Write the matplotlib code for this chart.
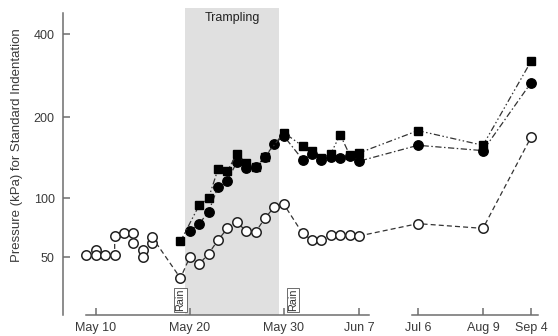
import matplotlib
matplotlib.use("Agg")
import matplotlib.pyplot as plt
import numpy as np
import pandas as pd

plt.rcParams["font.family"] = ["Liberation Sans", "DejaVu Sans"]

# sampling dates (year is arbitrary, only day-of-year is used)
open_dates = ["05-09", "05-10", "05-10", "05-11", "05-12", "05-12", "05-13",
              "05-14", "05-14", "05-15", "05-15", "05-16", "05-16", "05-19",
              "05-20", "05-21", "05-22", "05-23", "05-24", "05-25", "05-26",
              "05-27", "05-28", "05-29", "05-30", "06-01", "06-02", "06-03",
              "06-04", "06-05", "06-06", "06-07", "07-06", "08-09", "09-04"]
open_kpa = [51, 54, 51, 51, 51, 64, 66,
            66, 59, 54, 50, 59, 63, 39,
            50, 46, 52, 61, 70, 75, 68,
            67, 79, 90, 93, 66, 61, 61,
            65, 65, 65, 64, 74, 70, 168]

circle_dates = ["05-20", "05-21", "05-22", "05-23", "05-24", "05-25", "05-26",
                "05-27", "05-28", "05-29", "05-30", "06-01", "06-02", "06-03",
                "06-04", "06-05", "06-06", "06-07", "07-06", "08-09", "09-04"]
circle_kpa = [68, 74, 85, 110, 116, 136, 129,
              130, 142, 159, 170, 139, 146, 139,
              142, 141, 143, 137, 157, 150, 266]

square_dates = ["05-19", "05-21", "05-22", "05-23", "05-24", "05-25", "05-26",
                "05-27", "05-28", "05-30", "06-01", "06-02", "06-03", "06-04",
                "06-05", "06-06", "06-07", "07-06", "08-09", "09-04"]
square_kpa = [60, 92, 100, 128, 126, 146, 135,
              130, 142, 175, 156, 150, 141, 146,
              172, 145, 147, 178, 157, 318]

tick_dates = ["05-10", "05-20", "05-30", "06-07", "07-06", "08-09", "09-04"]
tick_labels = ["May 10", "May 20", "May 30", "Jun 7", "Jul 6", "Aug 9", "Sep 4"]
y_ticks = [50, 100, 200, 400]
rain_dates = ["05-19", "05-31"]
trampling = ("05-19", "05-29")


def doy(dates):
    d = pd.to_datetime(["2001-" + s for s in dates])
    return np.asarray(d.dayofyear, dtype=float)


def pw(x, xp, fp):
    x = np.asarray(x, dtype=float)
    y = np.interp(x, xp, fp)
    y = np.where(x < xp[0], fp[0] + (x - xp[0]) * (fp[1] - fp[0]) / (xp[1] - xp[0]), y)
    y = np.where(x > xp[-1], fp[-1] + (x - xp[-1]) * (fp[-1] - fp[-2]) / (xp[-1] - xp[-2]), y)
    return y


# compressed time axis after Jun 7
X_KNOTS = doy(["05-10", "06-07", "07-06", "08-09", "09-04"])
X_POS = [96, 359, 418, 483, 531]
# pressure axis spacing as drawn in the original figure
Y_KNOTS = np.log2([50, 100, 200, 400])
Y_POS = [0, 59, 140, 223]


def xf(v):
    return pw(v, X_KNOTS, X_POS)


def xi(p):
    return pw(p, X_POS, X_KNOTS)


def yf(v):
    return pw(np.log2(np.clip(v, 1e-3, None)), Y_KNOTS, Y_POS)


def yi(p):
    return 2 ** pw(p, Y_POS, Y_KNOTS)


GRAY = "#6e6e6e"
TXT = "#3a3a3a"

fig = plt.figure(figsize=(5.58, 3.36), dpi=100)
ax = fig.add_axes([63 / 558, 21 / 336, 482 / 558, 307 / 336])
ax.set_xscale("function", functions=(xf, xi))
ax.set_yscale("function", functions=(yf, yi))
ax.set_xlim(126.5, 254.6)
ax.set_ylim(25.3, 497)

t0, t1 = doy(trampling)
ax.axvspan(t0 + 0.5, t1 + 0.5, color="#e0e0e0", lw=0, zorder=0)
ax.text((t0 + t1) / 2 + 0.5, 0.968, "Trampling", transform=ax.get_xaxis_transform(),
        ha="center", va="center", fontsize=9, color="#222222")

ax.plot(doy(open_dates), open_kpa, ls=(0, (4, 2.5)), color="#333333", lw=0.9,
        marker="o", ms=6.8, mfc="white", mec="#222222", mew=1.1, zorder=3)
ax.plot(doy(circle_dates), circle_kpa, ls=(0, (5, 2, 1.2, 2)), color="#333333", lw=0.9,
        marker="o", ms=6.8, mfc="black", mec="black", zorder=4)
ax.plot(doy(square_dates), square_kpa, ls=(0, (5, 2, 1.2, 2, 1.2, 2)), color="#333333", lw=0.9,
        marker="s", ms=6.2, mfc="black", mec="black", zorder=5)

for d in doy(rain_dates):
    ax.text(d, 0.012, "Rain", transform=ax.get_xaxis_transform(), rotation=90,
            ha="center", va="bottom", fontsize=7.8, color="#333333",
            bbox=dict(boxstyle="square,pad=0.1", fc="white", ec="#555555", lw=0.6))

# axes frame: left spine plus a broken bottom axis
for s in ("top", "right", "bottom"):
    ax.spines[s].set_visible(False)
ax.spines["left"].set_color(GRAY)
ax.spines["left"].set_linewidth(1.1)
ax.spines["left"].set_bounds(25.3, 477)
xt = ax.get_xaxis_transform()
for a, b in (("05-09", "06-12"), ("07-03", "09-08")):
    xa, xb = doy([a, b])
    ax.plot([xa - 0.1, xb], [0, 0], transform=xt, color=GRAY, lw=1.1, clip_on=False)

ax.set_xticks(doy(tick_dates))
ax.set_xticklabels(tick_labels)
ax.set_yticks(y_ticks)
ax.set_yticklabels([str(v) for v in y_ticks])
ax.minorticks_off()
ax.tick_params(direction="in", length=5, width=1.1, color=GRAY, labelsize=9,
               labelcolor=TXT)
ax.tick_params(axis="y", pad=6)
ax.tick_params(axis="x", pad=5)

fig.text(17 / 558, 1 - 145 / 336, "Pressure (kPa) for Standard Indentation",
         rotation=90, ha="center", va="center", fontsize=9.5, color=TXT)

fig.savefig("out.png", dpi=100)
